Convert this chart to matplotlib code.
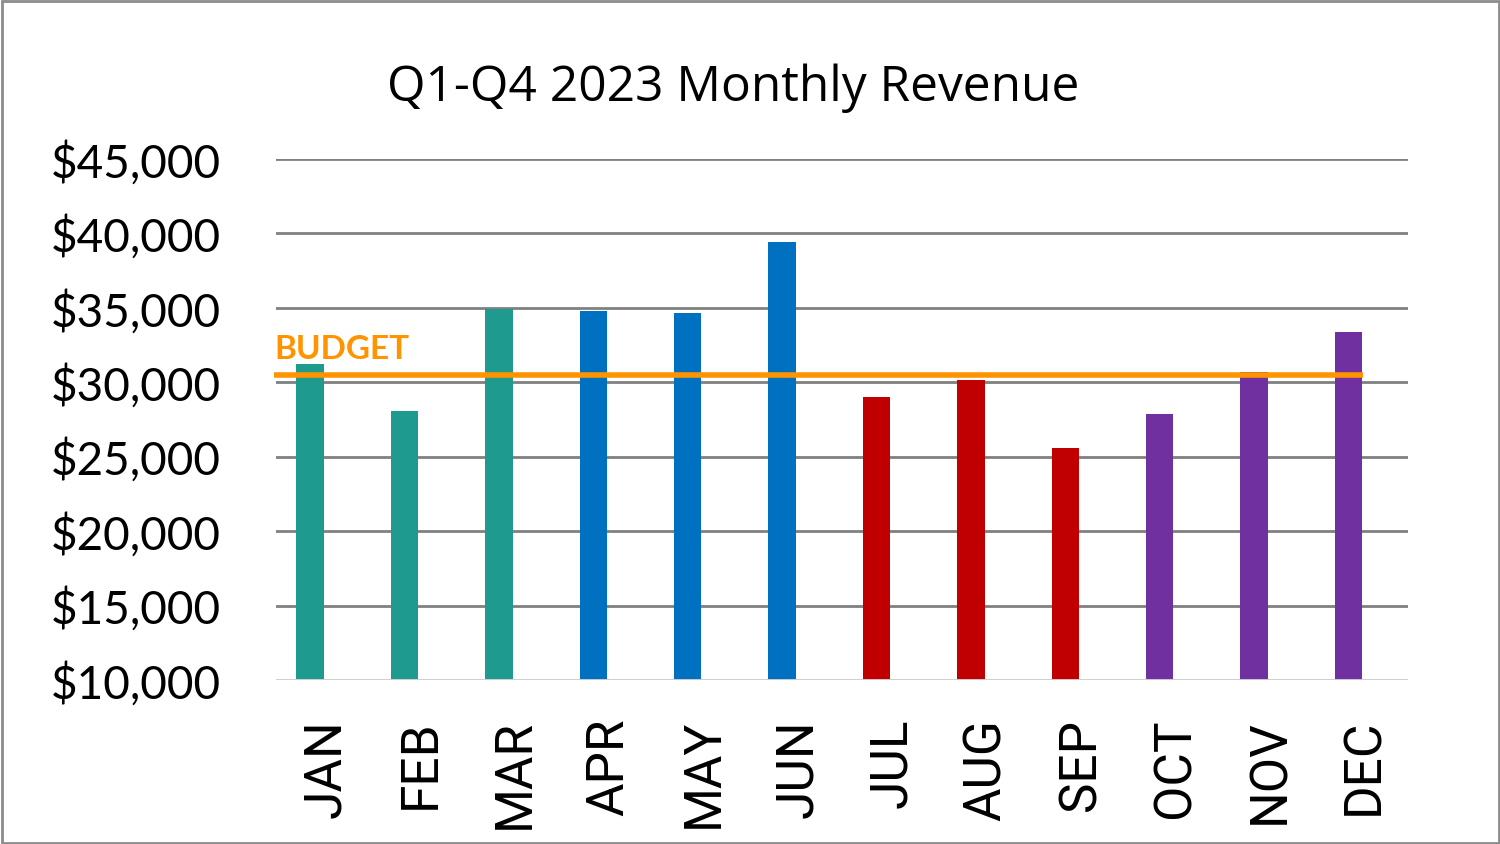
import matplotlib.pyplot as plt
from matplotlib.patches import Rectangle
from matplotlib.transforms import ScaledTranslation

months = ["JAN", "FEB", "MAR", "APR", "MAY", "JUN",
          "JUL", "AUG", "SEP", "OCT", "NOV", "DEC"]
revenue = [31200, 28100, 34900, 34800, 34650, 39400,
           29000, 30150, 25600, 27900, 30700, 33400]
quarter_colors = ["#1E9A8E", "#0070C0", "#C00000", "#7030A0"]
budget = 30500

fig = plt.figure(figsize=(15, 8.44), dpi=100)
ax = fig.add_axes([0.184, 0.1943, 0.7547, 0.6173])

colors = [quarter_colors[i // 3] for i in range(len(months))]
x = list(range(len(months)))
ax.bar(x, revenue, width=0.29, color=colors, zorder=3)

ax.set_ylim(10000, 45000)
ax.set_xlim(-0.36, 11.63)
ax.set_yticks(range(10000, 45001, 5000))
ax.set_yticklabels([f"${v:,}" for v in range(10000, 45001, 5000)],
                   fontsize=33, family="Lato")
ax.set_xticks(x)
ax.set_xticklabels(months, rotation=90, fontsize=37, family="Roboto",
                   va="top")
ax.tick_params(length=0, axis="y", pad=40)
ax.tick_params(length=0, axis="x", pad=28)
shift = ScaledTranslation(16 / 100, 0, fig.dpi_scale_trans)
for lab in ax.get_xticklabels():
    lab.set_transform(lab.get_transform() + shift)

ax.grid(axis="y", color="#808080", linewidth=2, zorder=0)
for s in ax.spines.values():
    s.set_visible(False)
ax.axhline(10000, color="#D9D9D9", linewidth=2, zorder=4)

ax.hlines(budget, -0.38, 11.15, color="#FF9400", linewidth=4, zorder=5,
          clip_on=False)
ax.text(-0.38, budget + 700, "BUDGET", color="#FF9400", fontsize=24,
        fontweight="bold", fontfamily="Lato", va="bottom", ha="left")

fig.text(0.489, 0.895, "Q1-Q4 2023 Monthly Revenue", fontsize=35.7,
         fontfamily="Open Sans", ha="center", va="center")

fig.patches.append(Rectangle((0.001, 0.001), 0.998, 0.998,
                             transform=fig.transFigure, fill=False,
                             edgecolor="#8C8C8C", linewidth=2))

fig.savefig("out.png", dpi=100)
